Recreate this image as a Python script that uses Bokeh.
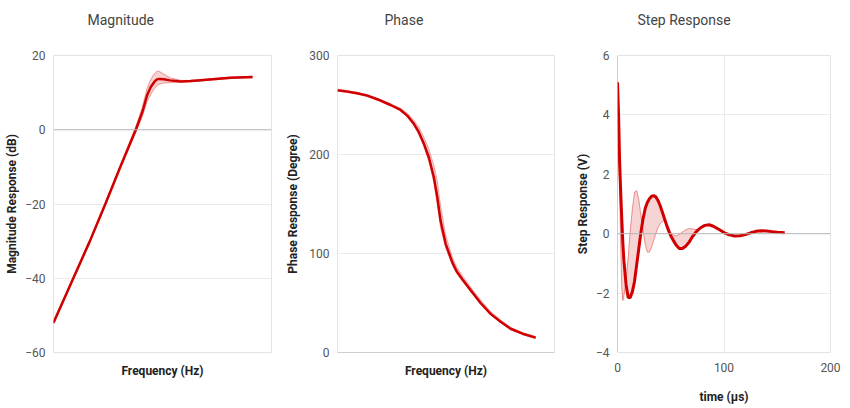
import numpy as np
from bokeh.plotting import figure
from bokeh.layouts import row
from bokeh.models import Range1d, FixedTicker, Span, Title
from bokeh.embed import file_html
from bokeh.resources import INLINE

# ---------------- data ----------------
mag_freq = [10, 25, 53, 110, 220, 450, 600, 760, 900, 1050, 1180, 1300, 1650,
            2200, 3600, 5700, 10500, 36000, 100000]
mag_db = [-52, -40, -30.2, -20, -10, 0, 4.5, 9.3, 11.5, 12.8, 13.5, 13.7, 13.6,
          13.3, 13.0, 13.1, 13.4, 14.0, 14.2]
mag_hi = [-51.6, -39.6, -29.8, -19.6, -9.5, 0.8, 5.8, 11.2, 13.6, 15.0, 15.7, 15.8, 15.0,
          14.0, 13.3, 13.3, 13.6, 14.2, 14.4]
mag_lo = [-52.3, -40.4, -30.6, -20.5, -10.6, -0.8, 3.3, 7.6, 9.5, 11.0, 11.8, 12.2, 12.6,
          12.7, 12.8, 12.9, 13.2, 13.8, 14.0]

ph_freq = [10, 16, 25, 40, 74, 118, 187, 259, 348, 433, 554, 699, 882, 1033, 1205,
           1521, 2077, 2535, 3305, 4865, 7740, 12330, 19630, 31260, 54600, 100000]
ph_deg = [265, 263.5, 261.8, 259.5, 254.5, 250, 245, 239, 231, 223, 211, 197, 177,
          157, 133, 110, 91, 82, 74, 63, 50, 39, 31, 24, 19, 15]
ph_hi = [266, 264.5, 262.8, 260.5, 255.6, 251.2, 246.7, 241.6, 234.7, 228, 217.4,
         205.5, 189, 173.5, 148, 119, 96.5, 86.6, 77.8, 66, 53, 41.4, 32.9, 25.4, 20, 16]
ph_lo = [264, 262.5, 260.8, 258.5, 253.5, 249, 244.2, 237.7, 229.2, 220.6, 207.9,
         192.9, 171, 149, 125.8, 105.6, 88.4, 79.8, 72.2, 61.5, 48.6, 37.9, 30.1, 23, 18, 14]

step_t = [0, 1, 2, 3, 4, 5, 6, 8, 10, 12, 14, 16, 18, 20, 22, 24, 26, 28, 30, 32,
          34, 36, 38, 40, 42, 44, 46, 48, 50, 52, 55, 58, 61, 64, 67, 70, 74, 78,
          82, 86, 90, 95, 100, 105, 110, 115, 120, 125, 130, 135, 140, 145, 150, 157]
step_main = [5.1, 4.0, 2.4, 1.4, 0.5, -0.3, -0.9, -1.7, -2.15, -2.15, -1.95, -1.6,
             -1.05, -0.5, 0.05, 0.5, 0.85, 1.05, 1.18, 1.26, 1.28, 1.24, 1.12, 0.95,
             0.74, 0.52, 0.3, 0.1, -0.07, -0.2, -0.38, -0.5, -0.5, -0.42, -0.3, -0.12,
             0.07, 0.2, 0.28, 0.3, 0.25, 0.15, 0.04, -0.04, -0.08, -0.07, -0.03, 0.03,
             0.08, 0.1, 0.09, 0.07, 0.05, 0.03]
step_alt = [5.1, 3.4, 1.5, -0.4, -1.8, -2.25, -2.1, -1.6, -0.8, 0.1, 0.85, 1.4,
            1.45, 1.15, 0.6, 0.1, -0.35, -0.62, -0.62, -0.45, -0.22, 0.0, 0.2, 0.33,
            0.41, 0.45, 0.38, 0.22, 0.05, -0.04, -0.08, -0.02, 0.06, 0.13, 0.17, 0.17,
            0.13, 0.2, 0.28, 0.3, 0.25, 0.15, 0.04, -0.04, -0.08, -0.07, -0.03, 0.03,
            0.08, 0.1, 0.09, 0.07, 0.05, 0.03]
step_upper = list(np.maximum(step_main, step_alt))
step_lower = list(np.minimum(step_main, step_alt))

mag_ticks = [-60, -40, -20, 0, 20]
ph_ticks = [0, 100, 200, 300]
step_yticks = [-4, -2, 0, 2, 4, 6]
step_xticks = [0, 100, 200]

# ---------------- style ----------------
RED = "#d10000"
FONT = "Roboto"
GRID = "#ebebeb"
BASE = "#b8b8b8"
TICK_C = "#555555"
LABEL_C = "#222222"


def make_fig(width, left, right, title, toff, xlabel, ylabel, ylab_sto, xr, yr, yticks,
             xtype="linear", xticks=None):
    p = figure(width=width, height=406, x_axis_type=xtype, x_range=xr, y_range=yr,
               output_backend="svg", toolbar_location=None,
               min_border_left=left, min_border_right=right,
               min_border_top=55, min_border_bottom=54)
    # spacer panel between the frame and the title
    p.add_layout(Title(text=" ", text_font_size="1px", standoff=20), "above")
    p.add_layout(Title(text=title, align="left", offset=toff, standoff=10,
                       text_font=FONT, text_font_size="14px",
                       text_font_style="normal", text_color="#444444"), "above")
    p.outline_line_color = "#e4e4e4"
    p.background_fill_color = "white"
    p.border_fill_color = "white"
    for ax in (p.xaxis[0], p.yaxis[0]):
        ax.axis_line_color = None
        ax.major_tick_line_color = None
        ax.minor_tick_line_color = None
        ax.major_tick_out = 0
        ax.major_tick_in = 0
        ax.minor_tick_out = 0
        ax.minor_tick_in = 0
        ax.major_label_text_font = FONT
        ax.major_label_text_font_size = "12px"
        ax.major_label_text_color = TICK_C
        ax.axis_label_text_font = FONT
        ax.axis_label_text_font_size = "12px"
        ax.axis_label_text_font_style = "bold"
        ax.axis_label_text_color = LABEL_C
    p.yaxis.ticker = FixedTicker(ticks=yticks)
    p.yaxis.axis_label = ylabel
    p.yaxis.major_label_standoff = 8
    p.yaxis.axis_label_standoff = ylab_sto
    p.xaxis.axis_label = xlabel
    if xticks is None:
        p.xaxis.ticker = FixedTicker(ticks=[])
        p.xaxis.major_label_standoff = 0
        p.xaxis.axis_label_standoff = 11
        p.xgrid.visible = False
    else:
        p.xaxis.ticker = FixedTicker(ticks=xticks)
        p.xaxis.major_label_standoff = 10
        p.xaxis.axis_label_standoff = 15
        p.xgrid.ticker = FixedTicker(ticks=xticks)
        p.xgrid.grid_line_color = GRID
    p.ygrid.ticker = FixedTicker(ticks=yticks)
    p.ygrid.grid_line_color = GRID
    return p


# Magnitude
p1 = make_fig(280, 53, 9, "Magnitude", 34, "Frequency (Hz)", "Magnitude Response (dB)", 3,
              Range1d(10, 240000), Range1d(-60, 20), mag_ticks, xtype="log")
p1.add_layout(Span(location=0, dimension="width", line_color=BASE, line_width=1))
p1.varea(x=mag_freq, y1=mag_lo, y2=mag_hi, fill_color=RED, fill_alpha=0.18)
p1.line(mag_freq, mag_hi, line_color=RED, line_alpha=0.35, line_width=1)
p1.line(mag_freq, mag_lo, line_color=RED, line_alpha=0.35, line_width=1)
p1.line(mag_freq, mag_db, line_color=RED, line_width=2.5)

# Phase
p2 = make_fig(280, 57, 6, "Phase", 47, "Frequency (Hz)", "Phase Response (Degree)", 6,
              Range1d(10, 240000), Range1d(0, 300), ph_ticks, xtype="log")
p2.add_layout(Span(location=0, dimension="width", line_color=BASE, line_width=1))
p2.varea(x=ph_freq, y1=ph_lo, y2=ph_hi, fill_color=RED, fill_alpha=0.18)
p2.line(ph_freq, ph_hi, line_color=RED, line_alpha=0.3, line_width=1)
p2.line(ph_freq, ph_lo, line_color=RED, line_alpha=0.3, line_width=1)
p2.line(ph_freq, ph_deg, line_color=RED, line_width=2.5)

# Step response
p3 = make_fig(288, 57, 18, "Step Response", 20, "time (μs)", "Step Response (V)", 3,
              Range1d(0, 200), Range1d(-4, 6), step_yticks, xticks=step_xticks)
p3.add_layout(Span(location=0, dimension="width", line_color=BASE, line_width=1))
p3.add_layout(Span(location=0, dimension="height", line_color=BASE, line_width=1))
p3.varea(x=step_t, y1=step_lower, y2=step_upper, fill_color=RED, fill_alpha=0.17)
p3.line(step_t, step_alt, line_color=RED, line_alpha=0.4, line_width=1)
p3.line(step_t, step_main, line_color=RED, line_width=3)

layout = row(p1, p2, p3)
open("out.html", "w").write(file_html(layout, INLINE))
